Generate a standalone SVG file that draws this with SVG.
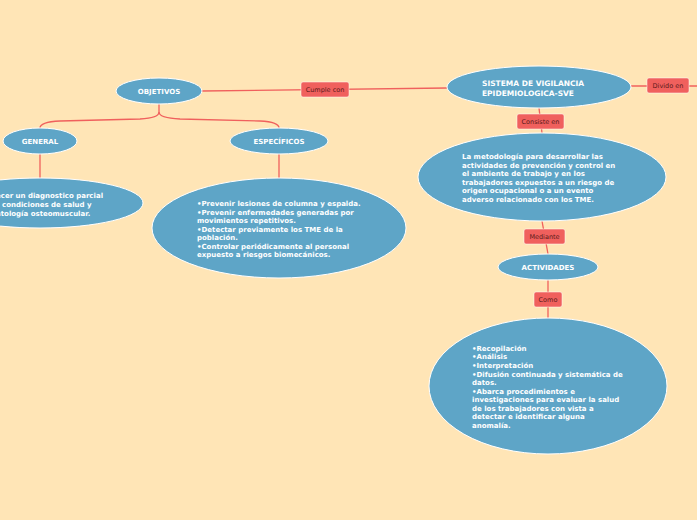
<svg xmlns="http://www.w3.org/2000/svg" width="697" height="520" viewBox="0 0 697 520">
<style>
.n{fill:#5ea5c7;stroke:#ffffff;stroke-width:1}
.t{font-family:"DejaVu Sans",Verdana,sans-serif;font-weight:bold;font-size:7px;fill:#ffffff}
.h{font-size:7.5px}
.l{fill:#f0605d;stroke:#ffffff;stroke-width:0.5}
.lt{font-family:"DejaVu Sans",Verdana,sans-serif;font-size:6.5px;fill:#5a1a1a}
.c{stroke:#f0605d;stroke-width:1.3;fill:none}
</style>
<rect width="697" height="520" fill="#ffe5b6"/>
<g id="connectors">
<path class="c" d="M202,91 L447,88"/>
<path class="c" d="M631,86 L697,86"/>
<path class="c" d="M539,108 L542,133"/>
<path class="c" d="M542,221 L548,254"/>
<path class="c" d="M548,280 L548,318"/>
<path class="c" d="M159,104 L159,112 Q159,118 140,119 L60,121 Q40,122 40,128"/>
<path class="c" d="M159,112 Q159,118 180,119 L260,121 Q279,122 279,128"/>
<path class="c" d="M40,154 L40,178"/>
<path class="c" d="M279,154 L279,178"/>
</g>
<g id="lbl-cumple"><rect class="l" x="301" y="82" width="48" height="15" rx="2"/><text class="lt" x="325" y="92" text-anchor="middle">Cumple con</text></g>
<g id="lbl-divido"><rect class="l" x="647" y="78" width="42" height="15" rx="2"/><text class="lt" x="668" y="88" text-anchor="middle">Divido en</text></g>
<g id="lbl-consiste"><rect class="l" x="517" y="114" width="47" height="15" rx="2"/><text class="lt" x="540.5" y="124" text-anchor="middle">Consiste en</text></g>
<g id="lbl-mediante"><rect class="l" x="524" y="229" width="41" height="15" rx="2"/><text class="lt" x="544.5" y="239" text-anchor="middle">Mediante</text></g>
<g id="lbl-como"><rect class="l" x="534" y="292" width="28" height="15" rx="2"/><text class="lt" x="548" y="302" text-anchor="middle">Como</text></g>
<g id="objetivos"><ellipse class="n" cx="159" cy="91" rx="43" ry="13"/><text class="t" x="159" y="94" text-anchor="middle">OBJETIVOS</text></g>
<g id="sve"><ellipse class="n" cx="539" cy="87" rx="92" ry="21"/><text class="t h" x="482" y="86">SISTEMA DE VIGILANCIA</text><text class="t h" x="482" y="96">EPIDEMIOLOGICA-SVE</text></g>
<g id="general"><ellipse class="n" cx="40" cy="141" rx="37" ry="13"/><text class="t" x="40" y="144" text-anchor="middle">GENERAL</text></g>
<g id="especificos"><ellipse class="n" cx="279" cy="141" rx="49" ry="13"/><text class="t" x="279" y="144" text-anchor="middle">ESPECÍFICOS</text></g>
<g id="general-desc"><ellipse class="n" cx="40" cy="203" rx="103" ry="25"/>
<text class="t"><tspan x="-4" y="198">ecer un diagnostico parcial</tspan><tspan x="2" y="207">condiciones de salud y</tspan><tspan x="-4" y="216">atología osteomuscular.</tspan></text></g>
<g id="especificos-desc"><ellipse class="n" cx="279" cy="228" rx="127" ry="50"/>
<text class="t"><tspan x="197" y="206">•Prevenir lesiones de columna y espalda.</tspan><tspan x="197" y="215">•Prevenir enfermedades generadas por</tspan><tspan x="197" y="223">movimientos repetitivos.</tspan><tspan x="197" y="232">•Detectar previamente los TME de la</tspan><tspan x="197" y="240">población.</tspan><tspan x="197" y="249">•Controlar periódicamente al personal</tspan><tspan x="197" y="257">expuesto a riesgos biomecánicos.</tspan></text></g>
<g id="metodologia"><ellipse class="n" cx="542" cy="177" rx="124" ry="44"/>
<text class="t"><tspan x="462" y="159">La metodología para desarrollar las</tspan><tspan x="462" y="168">actividades de prevención y control en</tspan><tspan x="462" y="176">el ambiente de trabajo y en los</tspan><tspan x="462" y="185">trabajadores expuestos a un riesgo de</tspan><tspan x="462" y="193">origen ocupacional o a un evento</tspan><tspan x="462" y="202">adverso relacionado con los TME.</tspan></text></g>
<g id="actividades"><ellipse class="n" cx="548" cy="267" rx="50" ry="13"/><text class="t" x="548" y="270" text-anchor="middle">ACTIVIDADES</text></g>
<g id="actividades-desc"><ellipse class="n" cx="548" cy="386" rx="119" ry="68"/>
<text class="t"><tspan x="472" y="351">•Recopilación</tspan><tspan x="472" y="359">•Análisis</tspan><tspan x="472" y="368">•Interpretación</tspan><tspan x="472" y="377">•Difusión continuada y sistemática de</tspan><tspan x="472" y="385">datos.</tspan><tspan x="472" y="394">•Abarca procedimientos e</tspan><tspan x="472" y="402">investigaciones para evaluar la salud</tspan><tspan x="472" y="411">de los trabajadores con vista a</tspan><tspan x="472" y="419">detectar e identificar alguna</tspan><tspan x="472" y="428">anomalía.</tspan></text></g>
</svg>
